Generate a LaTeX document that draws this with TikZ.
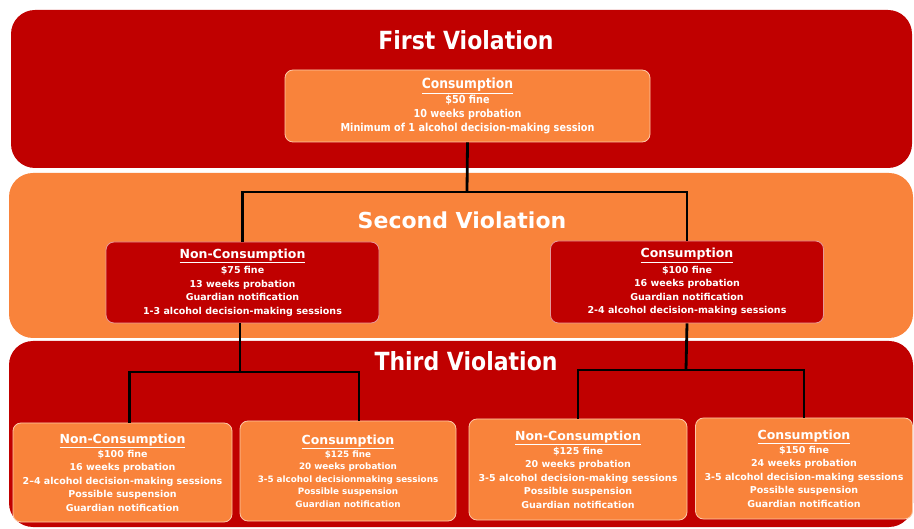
\documentclass[tikz,border=0pt]{standalone}
\usepackage{fontspec}
\setmainfont{DejaVu Sans}
\newfontfamily\narrowfont[FakeStretch=0.88]{DejaVu Sans}
\usetikzlibrary{positioning}
\definecolor{darkred}{HTML}{C00000}
\definecolor{tangerine}{HTML}{F9833B}
\newcommand{\heading}[1]{{\fontsize{12.5}{15}\selectfont\underline{#1}}}
\tikzset{
  band/.style={rounded corners=24pt},
  penalty/.style={draw,rounded corners=8pt,line width=0.8pt,text=white,
    align=center,inner sep=2pt,font=\bfseries\fontsize{9.5}{13.4}\selectfont},
  redbox/.style={penalty,fill=darkred,draw=white!60!darkred},
  orangebox/.style={penalty,fill=tangerine,draw=white!55!tangerine},
  title/.style={text=white,font=\bfseries\fontsize{22}{26}\selectfont},
  link/.style={line width=2.8pt,black}
}

\begin{document}
\begin{tikzpicture}[x=1pt,y=-1pt]
  \useasboundingbox (0,0) rectangle (914,529);
  % violation bands
  \fill[band,darkred] (11,10) rectangle (912,168);
  \fill[band,tangerine] (9,173) rectangle (913,338);
  \fill[band,darkred] (9,341) rectangle (913,527);
  \node[title,font=\narrowfont\bfseries\fontsize{25}{28}\selectfont] (t1) at (466,40) {First Violation};
  \node[title] (t2) at (462,220) {Second Violation};
  \node[title,font=\narrowfont\bfseries\fontsize{25}{28}\selectfont] (t3) at (466,361) {Third Violation};
  % penalty boxes
  \node[orangebox,font=\narrowfont\bfseries\fontsize{11}{14}\selectfont,
    minimum width=365pt,minimum height=72pt] (first) at (467.5,106)
    {{\fontsize{14}{16}\selectfont\underline{Consumption}}\\[1pt]\$50 fine\\10 weeks probation\\Minimum of 1 alcohol decision-making session};
  \node[redbox,minimum width=273pt,minimum height=81pt] (noncons2) at (242.5,282.5)
    {\heading{Non-Consumption}\\[2pt]\$75 fine\\13 weeks probation\\Guardian notification\\1-3 alcohol decision-making sessions};
  \node[redbox,minimum width=273pt,minimum height=82pt] (cons2) at (687,282)
    {\heading{Consumption}\\[2pt]\$100 fine\\16 weeks probation\\Guardian notification\\2-4 alcohol decision-making sessions};
  \node[orangebox,minimum width=219pt,minimum height=99pt] (noncons3a) at (122.5,472.5)
    {\heading{Non-Consumption}\\[1pt]\$100 fine\\16 weeks probation\\2--4 alcohol decision-making sessions\\Possible suspension\\Guardian notification};
  \node[orangebox,font=\bfseries\fontsize{8.8}{12.4}\selectfont,
    minimum width=216pt,minimum height=100pt] (cons3a) at (348,471)
    {\heading{Consumption}\\[1pt]\$125 fine\\20 weeks probation\\3-5 alcohol decisionmaking sessions\\Possible suspension\\Guardian notification};
  \node[orangebox,minimum width=218pt,minimum height=101pt] (noncons3b) at (578,469.5)
    {\heading{Non-Consumption}\\[1pt]\$125 fine\\20 weeks probation\\3-5 alcohol decision-making sessions\\Possible suspension\\Guardian notification};
  \node[orangebox,minimum width=217pt,minimum height=101pt] (cons3b) at (804,468.5)
    {\heading{Consumption}\\[1pt]\$150 fine\\24 weeks probation\\3-5 alcohol decision-making sessions\\Possible suspension\\Guardian notification};
  % connectors
  \coordinate (fork1) at (467,192);
  \coordinate (fork2) at (240,372);
  \coordinate (fork3) at (686,370);
  \draw[link] (first.south) -- (fork1);
  \draw[link] (noncons2.north) |- (fork1) -| (cons2.north);
  \draw[link] ([xshift=-2.5pt]noncons2.south) -- (fork2);
  \draw[link] ([xshift=7pt]noncons3a.north) |- (fork2) -| ([xshift=11pt]cons3a.north);
  \draw[link] (cons2.south) -- (fork3);
  \draw[link] (noncons3b.north) |- (fork3) -| (cons3b.north);
\end{tikzpicture}
\end{document}
